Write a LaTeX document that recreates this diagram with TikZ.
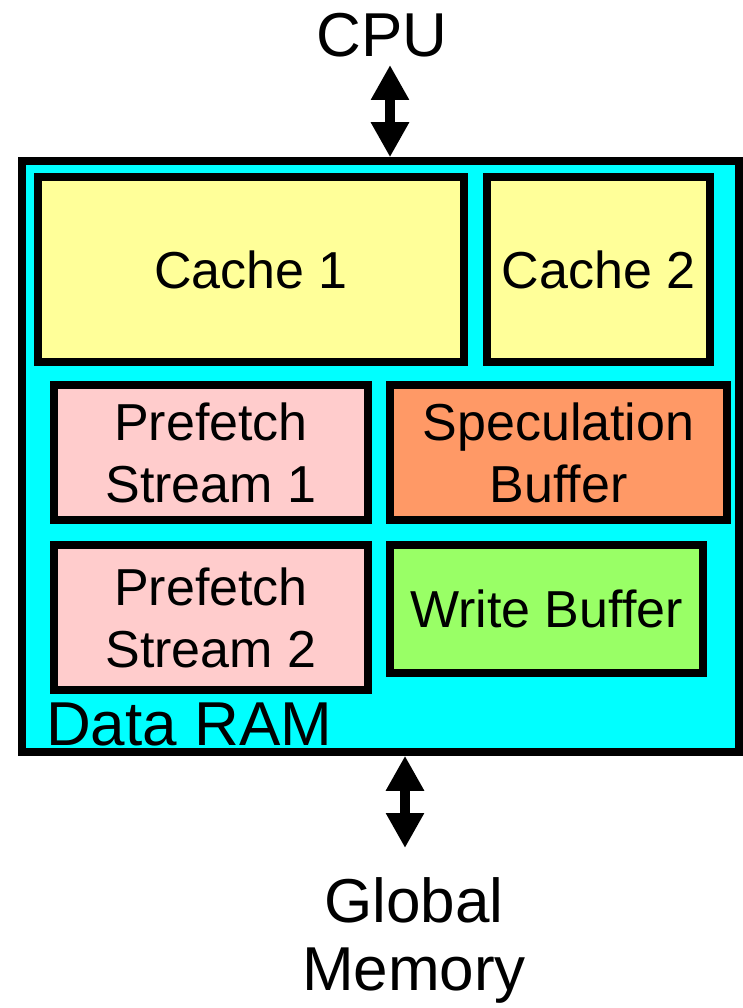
\documentclass[tikz,border=0pt]{standalone}
\usepackage{fontspec}
\setmainfont{Liberation Sans}
\usetikzlibrary{arrows.meta}
\definecolor{ramcyan}{HTML}{00FFFF}
\definecolor{cacheyellow}{HTML}{FFFF99}
\definecolor{prefpink}{HTML}{FFCCCC}
\definecolor{specorange}{HTML}{FF9966}
\definecolor{wbufgreen}{HTML}{99FF66}
\begin{document}
\begin{tikzpicture}[x=1pt,y=-1pt,
  unit/.style={rectangle, draw=black, line width=7.5pt, inner sep=0pt, align=center,
    font=\fontsize{52}{62}\selectfont},
  bigtext/.style={inner sep=0pt, align=center, font=\fontsize{62}{68}\selectfont},
  port/.style={line width=10pt, {Triangle[width=36pt,length=35pt]}-{Triangle[width=36pt,length=35pt]}}]
\useasboundingbox (0,0) rectangle (743,1008);
% data ram and its parts
\node [unit, fill=ramcyan, minimum width=717pt, minimum height=591pt] (ram) at (380.5,456.5) {};
\node [unit, fill=cacheyellow, minimum width=426pt, minimum height=185pt] (cacheone) at (251,269.5) {Cache 1};
\node [unit, fill=cacheyellow, minimum width=223pt, minimum height=185pt] (cachetwo) at (598.5,269.5) {Cache 2};
\node [unit, fill=prefpink, minimum width=314pt, minimum height=135pt] (prefone) at (211,452.5) {Prefetch\\Stream 1};
\node [unit, fill=specorange, minimum width=337pt, minimum height=135pt] (spec) at (558.5,452.5) {Speculation\\Buffer};
\node [unit, fill=prefpink, minimum width=314pt, minimum height=145pt] (preftwo) at (211,617.5) {Prefetch\\Stream 2};
\node [unit, fill=wbufgreen, minimum width=313pt, minimum height=128pt] (wbuf) at (546.5,609) {Write Buffer};
\node [bigtext, anchor=base west] (ramlabel) at (46,745) {Data RAM};
% outside
\node [bigtext, anchor=base] (cpu) at (382,57) {CPU};
\node [bigtext, anchor=base] (mem) at (414,990) {Global\\Memory};
\coordinate (cpuport) at (390,65);
\coordinate (memport) at (405,848);
\draw [port] (cpuport) -- (cpuport |- ram.north);
\draw [port] (memport |- ram.south) -- (memport);
\end{tikzpicture}
\end{document}
